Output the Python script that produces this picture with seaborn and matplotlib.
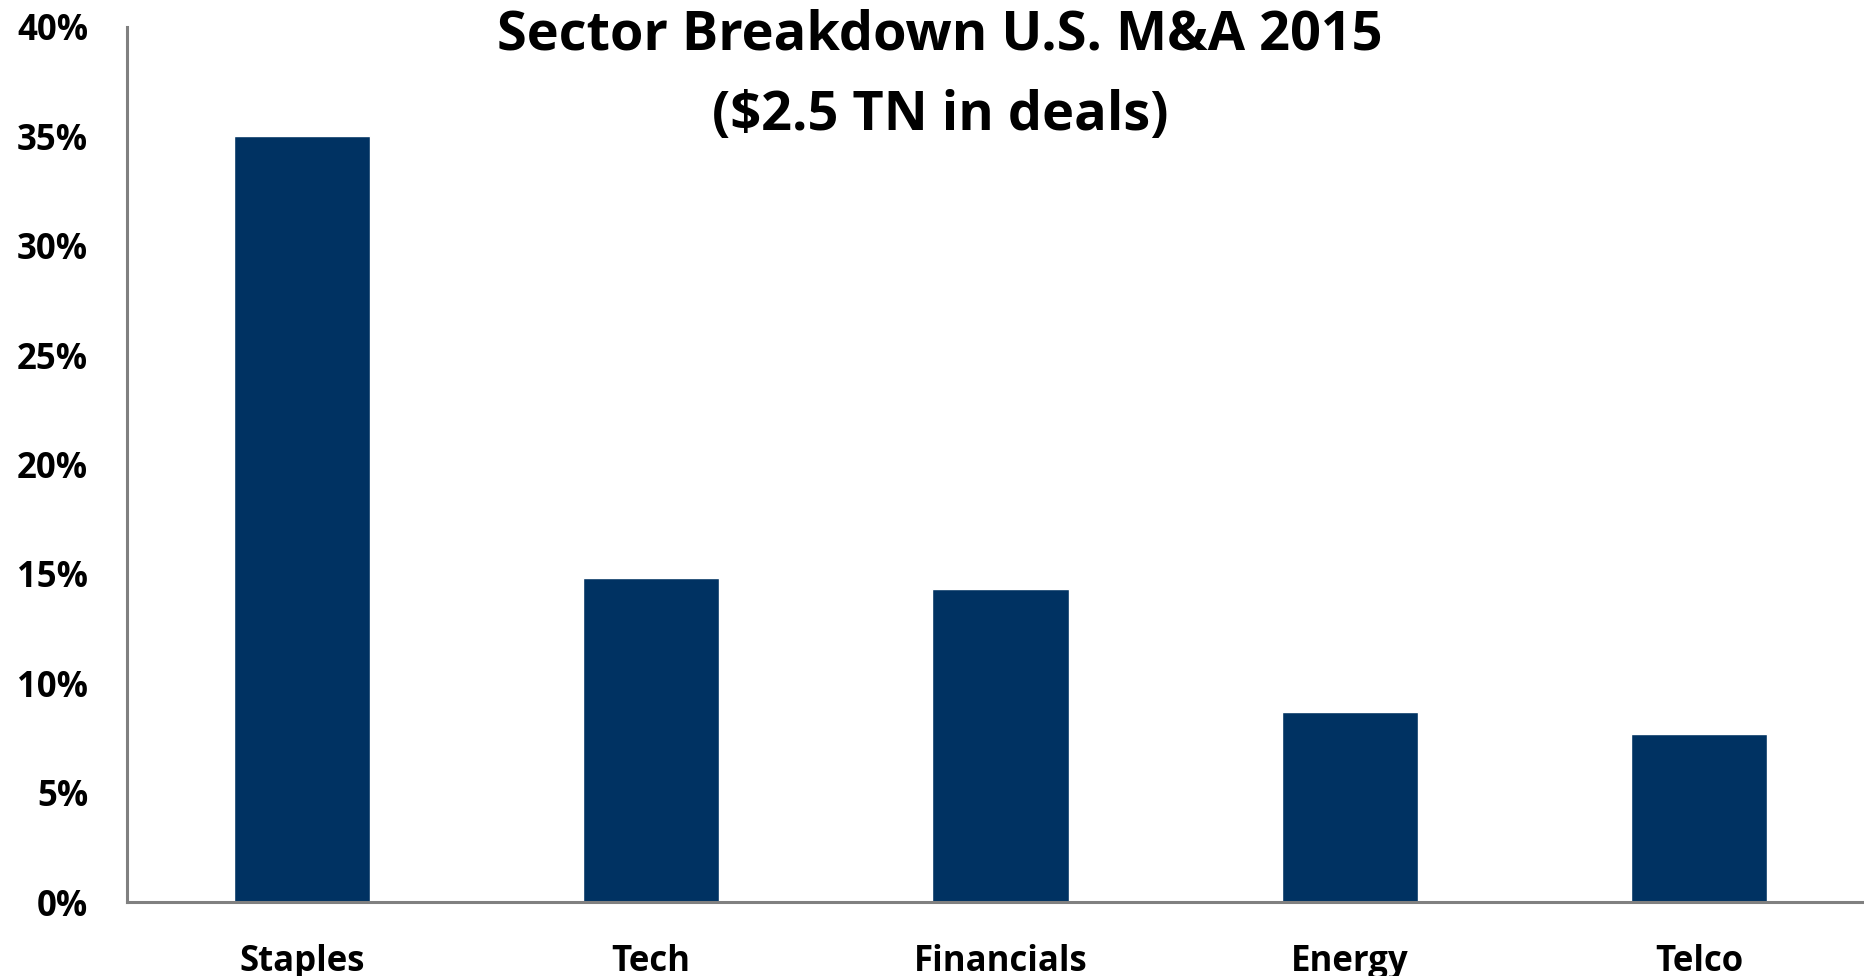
import matplotlib
matplotlib.use("Agg")
import pandas as pd
import seaborn as sns
from matplotlib import pyplot as plt
from matplotlib.ticker import PercentFormatter

# Sector share of 2015 U.S. M&A deal value
sectors = ['Staples', 'Tech', 'Financials', 'Energy', 'Telco']
share = [0.35, 0.148, 0.143, 0.087, 0.077]
y_ticks = [0, 0.05, 0.10, 0.15, 0.20, 0.25, 0.30, 0.35, 0.40]
title_lines = ['Sector Breakdown U.S. M&A 2015', '($2.5 TN in deals)']

data = pd.DataFrame({'Sector': sectors, 'Share': share})

sns.set_theme(style='white')
plt.rcParams['font.family'] = ['Open Sans', 'DejaVu Sans']
plt.rcParams['font.weight'] = 'bold'
plt.rcParams['text.color'] = 'black'
plt.rcParams['xtick.color'] = 'black'
plt.rcParams['ytick.color'] = 'black'

fig = plt.figure(figsize=(18.65, 9.76), dpi=100)
ax = fig.add_axes([127 / 1865, 74 / 976, 1747 / 1865, 875 / 976])

sns.barplot(data=data, x='Sector', y='Share', color='#003262', width=0.39,
            saturation=1, ax=ax)

ax.set_xlim(-0.5, len(sectors) - 0.5)
ax.set_ylim(0, 0.40)
ax.set_yticks(y_ticks)
ax.yaxis.set_major_formatter(PercentFormatter(1.0, decimals=0))
ax.set_xlabel('')
ax.set_ylabel('')
ax.tick_params(axis='y', length=0, pad=28, labelsize=25, labelcolor='black')
ax.tick_params(axis='x', length=0, pad=30, labelsize=25, labelcolor='black')
for lab in ax.get_xticklabels() + ax.get_yticklabels():
    lab.set_fontweight('bold')

sns.despine(ax=ax, top=True, right=True)
for side in ['left', 'bottom']:
    ax.spines[side].set_color('#808080')
    ax.spines[side].set_linewidth(2.2)

# two-line title, baselines placed separately
fig.text(0.504, 1 - 49 / 976, title_lines[0], ha='center', va='baseline',
         fontsize=39, fontweight='bold', color='black')
fig.text(0.504, 1 - 130 / 976, title_lines[1], ha='center', va='baseline',
         fontsize=39, fontweight='bold', color='black')

fig.savefig('out.png', dpi=100)
